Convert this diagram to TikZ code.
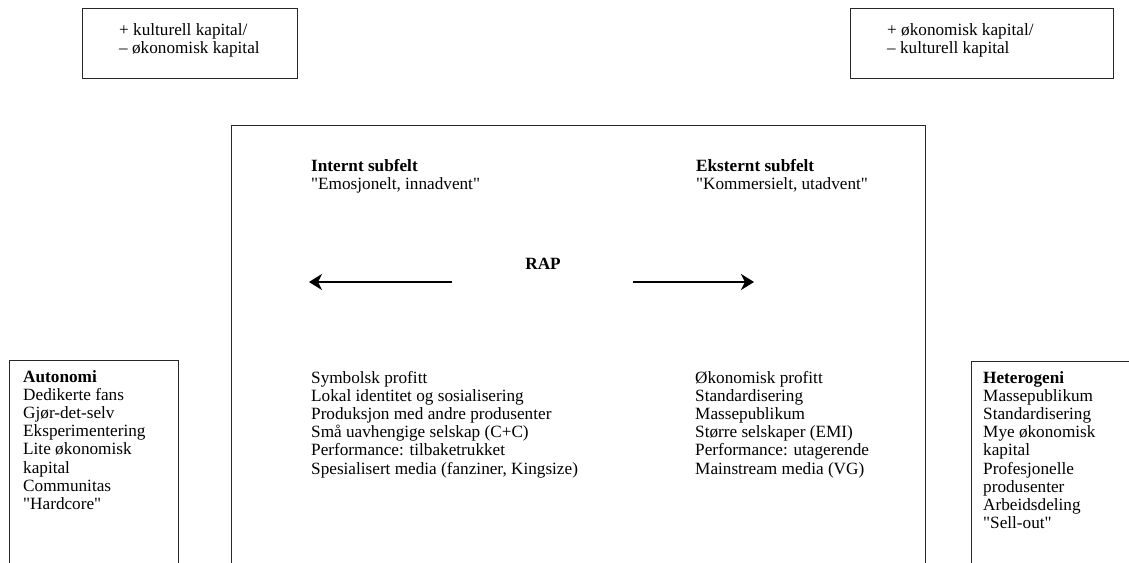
\documentclass[tikz,border=0pt]{standalone}
\usepackage{fontspec}
\setmainfont{Liberation Serif}
\usetikzlibrary{positioning, arrows.meta}
\definecolor{ink}{RGB}{40,40,40}
\tikzset{
  frame/.style={draw=ink,line width=1pt},
  txt/.style={anchor=base west,inner sep=0pt,
    font=\fontsize{17.2}{18.2}\selectfont},
  arr/.style={-{Stealth[length=13pt,width=16pt,inset=4pt]},line width=2pt},
}
\newcommand{\qq}[1]{\textquotedbl#1\textquotedbl}
\newcommand{\stack}[1]{\begin{tabular}[t]{@{}l@{}}#1\end{tabular}}
\begin{document}
\begin{tikzpicture}[x=1pt,y=-1pt]
  \clip (0,0) rectangle (1129,562);
  \draw[frame] (82,8) rectangle (297,78);
  \draw[frame] (850,8) rectangle (1113,78);
  \draw[frame] (231,125) rectangle (925,600);
  \draw[frame] (9,360) rectangle (178,600);
  \draw[frame] (971,361) rectangle (1140,600);

  \node[txt] (kult) at (119,35) {\stack{+ kulturell kapital/\\– økonomisk kapital}};
  \node[txt] (okon) at (887,35) {\stack{+ økonomisk kapital/\\– kulturell kapital}};

  \node[txt] (intern) at (311,171) {\stack{\textbf{Internt subfelt}\\\qq{Emosjonelt, innadvent}}};
  \node[txt] (ekstern) at (696,171) {\stack{\textbf{Eksternt subfelt}\\\qq{Kommersielt, utadvent}}};
  \node[txt,anchor=base,font=\fontsize{17.2}{18.2}\selectfont\bfseries] (rap) at (543,269) {RAP};

  \coordinate (lstart) at (452,282);
  \coordinate (lend) at (309,282);
  \coordinate (rstart) at (633,282);
  \coordinate (rend) at (754,282);
  \draw[arr] (lstart) -- (lend);
  \draw[arr] (rstart) -- (rend);

  \node[txt] (autonomi) at (23,382) {\stack{\textbf{Autonomi}\\Dedikerte fans\\Gjør-det-selv\\Eksperimentering\\
    Lite økonomisk\\kapital\\Communitas\\\qq{Hardcore}}};
  \node[txt] (symbolsk) at (311,383) {\stack{Symbolsk profitt\\Lokal identitet og sosialisering\\
    Produksjon med andre produsenter\\Små uavhengige selskap (C+C)\\
    Performance: tilbaketrukket\\Spesialisert media (fanziner, Kingsize)}};
  \node[txt] (okprofitt) at (695,383) {\stack{Økonomisk profitt\\Standardisering\\Massepublikum\\
    Større selskaper (EMI)\\Performance: utagerende\\Mainstream media (VG)}};
  \node[txt] (hetero) at (983,383) {\stack{\textbf{Heterogeni}\\Massepublikum\\Standardisering\\
    Mye økonomisk\\kapital\\Profesjonelle\\produsenter\\Arbeidsdeling\\\qq{Sell-out}}};
\end{tikzpicture}
\end{document}
